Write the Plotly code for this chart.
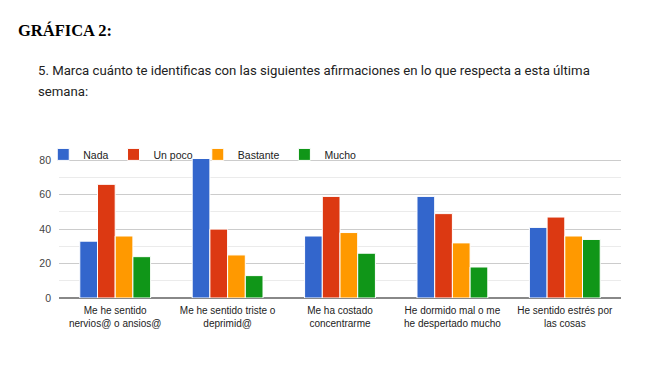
import plotly.graph_objects as go

categories = [
    "Me he sentido<br>nervios@ o ansios@",
    "Me he sentido triste o<br>deprimid@",
    "Me ha costado<br>concentrarme",
    "He dormido mal o me<br>he despertado mucho",
    "He sentido estrés por<br>las cosas",
]
series_names = ["Nada", "Un poco", "Bastante", "Mucho"]
nada = [33, 81, 36, 59, 41]
un_poco = [66, 40, 59, 49, 47]
bastante = [36, 25, 38, 32, 36]
mucho = [24, 13, 26, 18, 34]
colors = ["#3366cc", "#dc3912", "#ff9900", "#109618"]
y_ticks = [0, 20, 40, 60, 80]

SANS = "Liberation Sans, Arial, sans-serif"
SUB = "Roboto, Liberation Sans, sans-serif"

fig = go.Figure()
for name, vals, col in zip(series_names, [nada, un_poco, bastante, mucho], colors):
    fig.add_trace(go.Bar(x=categories, y=vals, name=name,
                         marker=dict(color=col, line=dict(color="white", width=1))))

fig.update_layout(
    width=657, height=365,
    paper_bgcolor="white", plot_bgcolor="white",
    margin=dict(l=51, r=44, t=135, b=75),
    barmode="group", bargap=0.37, bargroupgap=0,
    font=dict(family=SANS, size=10, color="#444"),
    showlegend=True,
    legend=dict(orientation="h", x=-0.028, y=1.02, xanchor="left", yanchor="top",
                bgcolor="rgba(0,0,0,0)", font=dict(family=SANS, size=10.5, color="#222"),
                itemwidth=30, traceorder="normal"),
    annotations=[
        dict(text="<b>GRÁFICA 2:</b>", xref="paper", yref="paper", x=-0.0774, y=1.7226,
             xanchor="left", yanchor="middle", showarrow=False,
             font=dict(family="Liberation Serif, Times New Roman", size=16.5, color="#000")),
        dict(text="5. Marca cuánto te identificas con las siguientes afirmaciones en lo que respecta a esta última",
             xref="paper", yref="paper", x=-0.0408, y=1.4665, xanchor="left", yanchor="middle",
             align="left", showarrow=False,
             font=dict(family=SUB, size=13.2, color="#222")),
        dict(text="semana:",
             xref="paper", yref="paper", x=-0.0408, y=1.331, xanchor="left", yanchor="middle",
             align="left", showarrow=False,
             font=dict(family=SUB, size=13.2, color="#222")),
    ],
)
fig.update_yaxes(range=[0, 90], tickvals=y_ticks, showgrid=True, gridcolor="#cccccc",
                 gridwidth=1, zeroline=True, zerolinecolor="#888", zerolinewidth=2,
                 tickfont=dict(family=SANS, size=10.5, color="#444"), ticks="",
                 ticklabelstandoff=7,
                 minor=dict(dtick=10, tick0=0, showgrid=True, gridcolor="#ebebeb", gridwidth=1),
                 fixedrange=True)
fig.update_xaxes(tickfont=dict(family=SANS, size=10, color="#222"), showline=False,
                 ticklabelstandoff=5, fixedrange=True)

fig.write_html("out.html")
